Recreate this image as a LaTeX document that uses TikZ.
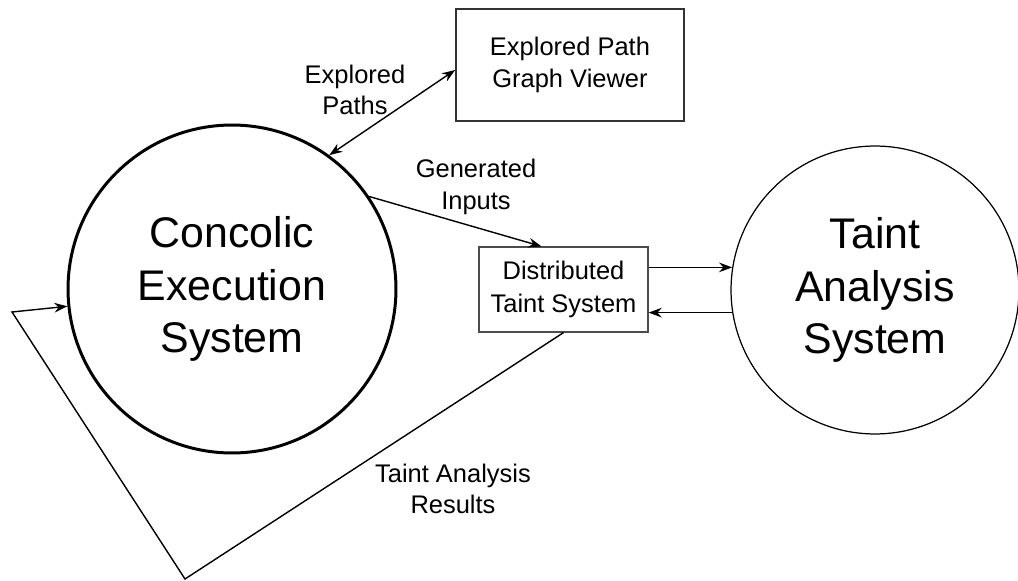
\documentclass[tikz,border=0pt]{standalone}
\usepackage{fontspec}
\setmainfont{Liberation Sans}
\usetikzlibrary{arrows.meta,calc}

\begin{document}
\begin{tikzpicture}[x=0.02cm,y=-0.02cm,line width=0.8pt,>={Stealth[length=7.5pt,width=5.5pt,inset=2.5pt]},
  sys node/.style={circle,draw,inner sep=0pt,align=center,font=\fontsize{24.4}{29.8}\selectfont},
  tool box/.style={rectangle,draw=black!80,inner sep=0pt,align=center,font=\fontsize{14.5}{18.4}\selectfont},
  flow label/.style={align=center,font=\fontsize{14.5}{17.8}\selectfont}]
\useasboundingbox (0,0) rectangle (1018,581);

% Systems
\node[sys node,line width=1.7pt,minimum size=6.56cm] (concolic) at (232,289) {Concolic\\Execution\\System};
\node[sys node,line width=0.7pt,minimum size=5.76cm] (taint) at (875,290) {Taint\\Analysis\\System};

% Boxes
\node[tool box,line width=1pt,minimum width=4.56cm,minimum height=2.24cm] (viewer) at (570,65) {Explored Path\\Graph Viewer};
\node[tool box,line width=0.7pt,draw=black!70,minimum width=3.38cm,minimum height=1.7cm] (dts) at (563.5,289.5) {Distributed\\Taint System};

% Corners of the feedback line
\coordinate (fbbottom) at (185,579);
\coordinate (fbleft) at (12,312);

% Draw connectors
\draw[<->] (concolic.54) -- ($(viewer.west)+(0,5)$);
\draw[->] (concolic.34) -- (dts.117);
\draw[->] (dts.east |- taint.171) -- (taint.171);
\draw[->] (taint.189) -- (dts.east |- taint.189);
\draw[->] (dts.south) -- (fbbottom) -- (fbleft) -- (concolic.186);

% Labels
\node[flow label] (pathslbl) at (355,90) {Explored\\Paths};
\node[flow label] (inputslbl) at (476,187) {Generated\\Inputs};
\node[flow label] (resultslbl) at (453,489) {Taint Analysis\\Results};

\end{tikzpicture}
\end{document}
